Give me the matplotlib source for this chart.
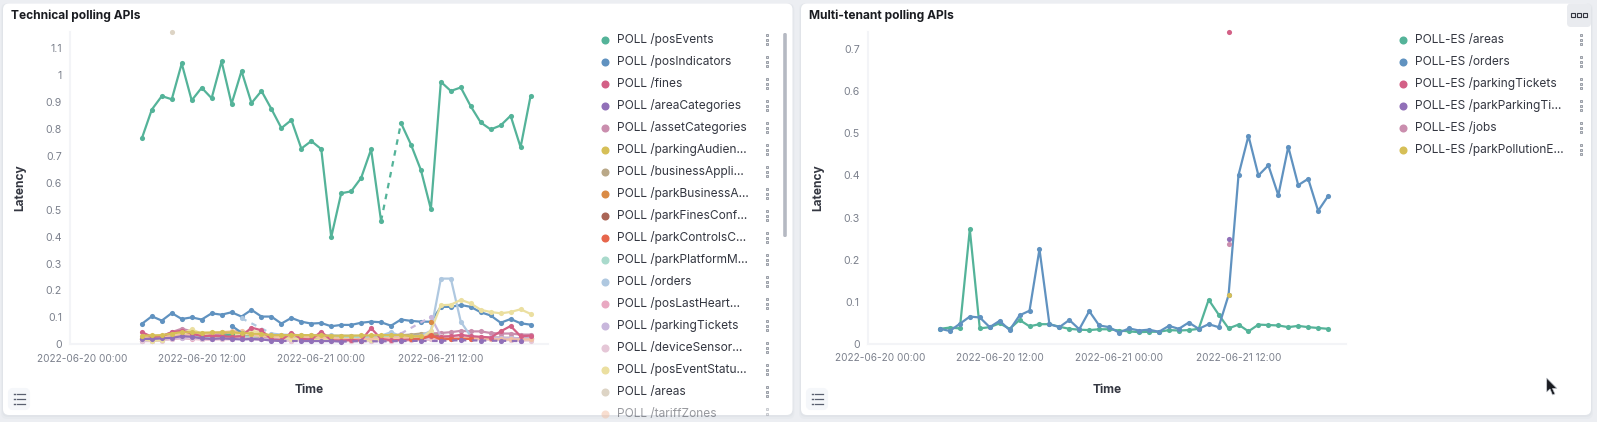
import numpy as np
import pandas as pd
import matplotlib
matplotlib.use('Agg')
import matplotlib.pyplot as plt
import matplotlib.dates as mdates
from matplotlib.patches import FancyBboxPatch, Polygon

plt.rcParams['font.family'] = ['Inter', 'DejaVu Sans']

N = np.nan

# hourly buckets, 2022-06-20 06:00 to 2022-06-21 21:00
times = pd.date_range('2022-06-20 06:00', periods=40, freq='h')
x_ticks = pd.to_datetime(['2022-06-20 00:00', '2022-06-20 12:00', '2022-06-21 00:00', '2022-06-21 12:00'])

# Technical polling APIs
pos_events = [.765, .872, .922, .910, 1.043, .906, .953, .914, 1.051, .893, 1.015, .896, .941, .874, .803, .833, .727, .755, .725, .398,
              .561, .568, .618, .724, .458, N, .822, .742, .647, .502, .975, .941, .954, .884, .824, .798, .813, .849, .732, .922]
pos_indicators = [.076, .104, .088, .116, .094, .100, .092, .115, .110, .119, .103, .128, .103, .103, .077, .098, .084, .077, .079, .067,
                  .072, .072, .080, .084, .082, .069, .092, .087, .084, .084, .139, .139, .146, .139, .119, .107, .080, .094, .078, .073]
fines = [.045, .028, .030, .045, .050, .040, .030, .032, .030, .028, .030, .062, .052, .018, .016, .043, .020, .018, .047, .015,
         .014, .016, .014, .060, .020, .015, .016, .018, .020, .030, .028, .030, .035, .030, .028, .025, .048, .068, .030, .032]
area_categories = [.020, .020, .022, .024, .030, .028, .022, .020, .022, .020, .018, .020, .018, .014, .012, N, .012, .012, .012, .012,
                   .010, N, .012, N, .011, N, .012, N, .013, N, .013, N, .015, N, .014, N, .013, N, .012, N]
asset_categories = [.018, .020, .030, .045, .058, .048, .040, .035, .040, .035, .030, .030, .028, .025, .022, .020, .025, .022, .020, .020,
                    .020, .018, .020, .020, .025, .022, .025, .030, .036, .040, .042, .045, .050, .048, .048, .042, .040, .040, .036, .036]
parking_audience = [.032, .033, .034, .040, .045, .044, .043, .044, .044, .044, .042, .040, .038, .034, .034, .034, .034, .034, .033, .032,
                    .032, .032, .033, .033, .034, .034, .035, .030, .030, N, N, N, N, N, N, N, N, N, N, N]
business_appli = [.020, .025, .030, .030, .035, .030, .030, .028, .030, .030, .032, .030, .030, .030, .032, .030, .030, .030, .028, .026,
                  .026, .028, .028, .030, .030, .032, .034, .036, .040, .040, .032, .030, .028, .026, .025, .025, .024, .024, .022, .022]
park_business = [N, N, N, N, N, N, N, N, N, N, N, N, N, N, N, N, N, N, N, N,
                 N, N, N, N, N, N, N, N, N, .083, N, N, N, N, N, N, N, N, N, N]
park_fines = [.025, .024, .026, .028, .030, .028, .026, .026, .026, .026, .026, .028, .030, .030, .028, .027, .027, .026, .026, .020,
              .018, .018, .018, .020, .020, .020, .020, .022, .024, .028, .030, .028, .030, .026, .024, .024, .024, .022, .022, .022]
park_controls = [N, N, N, N, N, N, N, N, N, N, N, N, N, N, N, N, N, N, N, N,
                 N, N, N, N, N, N, N, .018, .020, .033, .018, .020, .020, .020, N, N, N, N, N, N]
park_platform = [.020, .020, .022, .025, .030, .028, .028, .026, .026, .028, .028, .028, .030, .030, .028, .028, .028, .026, .028, .028,
                 .026, .026, .028, .026, .026, .028, .030, .030, .030, .030, .020, .022, .028, .024, .024, .024, .022, .022, .020, .020]
orders = [N, N, N, N, N, N, N, N, N, N, .097, N, N, .040, .036, .035, .034, .034, .033, .033,
          .032, .032, .030, .030, .032, .045, .030, .030, .032, .050, .244, .244, .084, .030, .024, .024, .022, .022, .022, .020]
pos_last_heart = [.012, .012, .015, .020, .022, .020, .018, .018, .020, .020, .020, .020, .018, .016, .016, .014, .016, .016, .014, .014,
                  .012, .014, .013, .012, .013, .014, .014, .015, .016, .018, .020, .020, .022, .020, .018, .018, .016, .016, .014, .016]
parking_tickets = [.012, .014, .016, .022, .024, .022, .020, .020, .022, .020, .020, .018, .018, .020, .018, .018, .018, .016, .016, .016,
                   .014, .016, .018, .018, .016, .024, .040, N, N, .102, .030, .030, .032, .028, .026, .026, .024, .024, .022, .022]
device_sensor = [.014, .013, .014, .020, .030, .022, .020, .018, .018, .018, .022, .020, .018, .016, .014, .014, .016, .014, .014, .014,
                 .012, .012, .012, .012, .012, .014, .014, .016, .018, .020, .030, .028, .026, .022, .020, .018, .016, .016, .016, .014]
pos_event_status = [.020, .012, .016, .030, .040, .055, .040, .030, .028, .030, .045, .050, .045, .030, .025, .020, .020, .016, .020, .022,
                    .018, .016, .014, .015, .018, .020, .020, .020, .022, .050, .145, .147, .165, .152, .128, .120, .115, .120, .130, .113]
areas = [N, N, N, 1.16, N, N, N, N, N, N, N, N, N, N, N, N, N, N, N, N,
         N, N, N, N, N, N, N, N, N, N, N, N, N, N, N, N, N, N, N, N]
tariff_zones = [.025, .030, .028, .030, .035, .035, .040, .042, .045, .048, .050, .035, .030, .028, .030, .030, .028, .028, .026, .024,
                .020, .020, .018, .022, .022, .024, .026, .028, .030, .028, .024, .020, .020, .024, .020, .020, .018, .018, .018, .018]
# further series below the end of the scrolled legend
extra_a = [N, N, N, N, N, N, N, N, .030, .037, N, N, N, N, N, N, N, N, N, N,
           N, N, N, N, N, N, N, N, N, N, N, N, N, N, N, N, N, N, N, N]
extra_b = [N, N, N, N, N, N, N, N, N, .069, .043, N, N, N, N, N, N, N, N, N,
           N, N, N, N, N, N, N, N, N, N, N, N, N, N, N, N, N, N, N, N]

tech_names = ['POLL /posEvents', 'POLL /posIndicators', 'POLL /fines', 'POLL /areaCategories', 'POLL /assetCategories',
              'POLL /parkingAudien...', 'POLL /businessAppli...', 'POLL /parkBusinessA...', 'POLL /parkFinesConf...',
              'POLL /parkControlsC...', 'POLL /parkPlatformM...', 'POLL /orders', 'POLL /posLastHeart...', 'POLL /parkingTickets',
              'POLL /deviceSensor...', 'POLL /posEventStatu...', 'POLL /areas', 'POLL /tariffZones']
tech_series = [pos_events, pos_indicators, fines, area_categories, asset_categories, parking_audience, business_appli, park_business,
               park_fines, park_controls, park_platform, orders, pos_last_heart, parking_tickets, device_sensor, pos_event_status,
               areas, tariff_zones]
palette = ['#54B399', '#6092C0', '#D36086', '#9170B8', '#CA8EAE', '#D6BF57', '#B9A888', '#DA8B45', '#AA6556', '#E7664C',
           '#A9DACC', '#AFC8E0', '#E9A9C2', '#C8B7DC', '#E5C7D7', '#EBDFA0', '#DDD4C5', '#F2BFA3']
# drawn above the pale tints, as in the dashboard
front = {'POLL /parkingAudien...': 5, 'POLL /areaCategories': 4.8, 'POLL /fines': 4.6, 'POLL /parkControlsC...': 4.7,
         'POLL /parkBusinessA...': 4.9}

# Multi-tenant polling APIs
es_areas = [.036, .039, .037, .272, .037, .040, .049, .036, .057, .042, .047, .047, .041, .036, .034, .033, .035, .035, .032, .030,
            .028, .029, .029, .033, .032, .033, .036, .105, .070, .037, .046, .030, .046, .045, .044, .040, .043, .040, .038, .036]
es_orders = [.036, .031, .048, .065, .063, .040, .055, .033, .068, .079, .225, .047, .040, .057, .035, .078, .044, .040, .027, .037,
             .032, .034, .029, .043, .036, .051, .036, .047, .040, .116, .401, .494, .400, .424, .353, .468, .377, .392, .316, .351]
es_parking_tickets = [N] * 29 + [.741] + [N] * 10
es_park_parking = [N] * 29 + [.249] + [N] * 10
es_jobs = [N] * 29 + [.237] + [N] * 10
es_park_pollution = [N] * 29 + [.116] + [N] * 10
es_names = ['POLL-ES /areas', 'POLL-ES /orders', 'POLL-ES /parkingTickets', 'POLL-ES /parkParkingTi...', 'POLL-ES /jobs',
            'POLL-ES /parkPollutionE...']
es_series = [es_areas, es_orders, es_parking_tickets, es_park_parking, es_jobs, es_park_pollution]

y_ticks_left = [0, .1, .2, .3, .4, .5, .6, .7, .8, .9, 1, 1.1]
y_ticks_right = [0, .1, .2, .3, .4, .5, .6, .7]

W, H = 1597, 422
TEXT = '#343741'
TICK = '#7b808c'
AXIS = '#f3f4f7'


def draw_series(ax, values, color, z=3):
    y = np.array(values, dtype=float)
    ok = np.flatnonzero(~np.isnan(y))
    # nulls get a dashed bridge, like the dashboard draws them
    for a, b in zip(ok[:-1], ok[1:]):
        if b > a + 1:
            ax.plot(times[[a, b]], y[[a, b]], color=color, lw=1.6, ls=(0, (2.5, 2.5)), zorder=z, clip_on=False)
    ax.plot(times, y, color=color, lw=1.6, marker='o', ms=3.7, mew=0, zorder=z, clip_on=False)


def make_axes(left, right, top, bottom, y_top, xlim_hours, y_ticks, label_x):
    ax = fig.add_axes([left / W, 1 - bottom / H, (right - left) / W, (bottom - top) / H])
    ax.patch.set_alpha(0)
    ax.set_ylim(0, y_top)
    ax.set_xlim(mdates.date2num(pd.Timestamp('2022-06-20') + pd.Timedelta(hours=xlim_hours[0])),
                mdates.date2num(pd.Timestamp('2022-06-20') + pd.Timedelta(hours=xlim_hours[1])))
    for s in ['top', 'right']:
        ax.spines[s].set_visible(False)
    for s in ['left', 'bottom']:
        ax.spines[s].set_color(AXIS)
        ax.spines[s].set_linewidth(1.5)
    ax.set_xticks(x_ticks)
    ax.xaxis.set_major_formatter(mdates.DateFormatter('%Y-%m-%d %H:%M'))
    ax.set_yticks(y_ticks)
    ax.set_yticklabels(['%g' % t for t in y_ticks])
    ax.tick_params(length=0, labelcolor=TICK)
    ax.tick_params(axis='x', pad=6.7, labelsize=7.25)
    ax.tick_params(axis='y', pad=6, labelsize=7.6)
    ax.set_xlabel('Time', fontsize=8.6, fontweight='bold', color=TEXT)
    ax.set_ylabel('Latency', fontsize=8.6, fontweight='bold', color=TEXT)
    ax.xaxis.set_label_coords(0.5, -(384 - bottom) / (bottom - top), transform=ax.transAxes)
    ax.yaxis.set_label_coords(-(left - label_x) / (right - left), 0.5, transform=ax.transAxes)
    return ax


def draw_legend(names, colors, dot_x, text_x, menu_x):
    for i, (name, c) in enumerate(zip(names, colors)):
        y = 39.7 + 22 * i
        fade = 0.5 if y > 405 else 1
        bg.plot(dot_x, y, 'o', color=c, ms=5.8, mew=0, alpha=fade)
        t = bg.text(text_x, y, name, fontsize=8.6, color=TEXT, alpha=fade, va='center', ha='left')
        t.set_clip_path(FancyBboxPatch((0, 0), W, 415, boxstyle='square,pad=0', transform=bg.transData))
        t.set_clip_on(True)
        for dy in [-4.6, 0, 4.6]:
            if y + dy < 415:
                bg.plot(menu_x, y + dy, 's', mfc='#d5d8de', mec='#858a94', ms=1.9, mew=0.55, alpha=fade)


def list_button(x):
    bg.add_patch(FancyBboxPatch((x + 3, 390), 18, 18, boxstyle='round,pad=0,rounding_size=3', fc='#f5f7fa', ec='#f5f7fa', lw=3))
    for y in [394, 399, 404]:
        bg.plot([x + 6.5, x + 7.5], [y, y], color='#5a6070', lw=1)
        bg.plot([x + 9.5, x + 18], [y, y], color='#5a6070', lw=0.9)


fig = plt.figure(figsize=(W / 100, H / 100), dpi=100, facecolor='#eceef2')
bg = fig.add_axes([0, 0, 1, 1], zorder=0)
bg.set_xlim(0, W)
bg.set_ylim(H, 0)
bg.axis('off')

# panels
for x0, x1 in [(3, 792.5), (801, 1591)]:
    for grow, alpha in [(4, .05), (2, .07)]:
        bg.add_patch(FancyBboxPatch((x0 - grow / 2, 3.5), x1 - x0 + grow, 411.5 + grow, boxstyle='round,pad=0,rounding_size=6',
                                    fc='#98a2b3', ec='none', alpha=alpha))
    bg.add_patch(FancyBboxPatch((x0, 3.5), x1 - x0, 411.5, boxstyle='round,pad=0,rounding_size=6', fc='white', ec='none'))

bg.text(11.4, 15.5, 'Technical polling APIs', fontsize=8.6, fontweight='bold', color='#1a1c21', va='center')
bg.text(809, 15.5, 'Multi-tenant polling APIs', fontsize=8.6, fontweight='bold', color='#1a1c21', va='center')

draw_legend(tech_names, palette, 605, 617.3, 766.7)
draw_legend(es_names, palette, 1403, 1415.3, 1581)

# legend scrollbar
bg.add_patch(FancyBboxPatch((783.2, 33), 3.6, 204, boxstyle='round,pad=0,rounding_size=1.5', fc='#b5b9c2', ec='none'))

# panel menu button, top right
bg.add_patch(FancyBboxPatch((1567, 3.5), 24, 23.5, boxstyle='round,pad=0,rounding_size=4', fc='#e9ebef', ec='none'))
for x in [1573, 1579, 1585]:
    bg.plot(x, 15, 's', mfc='none', mec='#343741', ms=2.3, mew=0.8)

list_button(7)
list_button(805)

# mouse pointer
bg.add_patch(Polygon([(1546.7, 378), (1546.7, 392), (1550, 389), (1552.5, 395), (1555, 394), (1552.5, 388.5), (1557, 388.5)],
                     closed=True, fc='#1a1c21', ec='#c8ccd2', lw=0.5))

ax1 = make_axes(70.4, 547.5, 32, 344.3, 1.16, (-1.17, 46.7), y_ticks_left, 26.5)
for i, (vals, c, name) in enumerate(zip(tech_series, palette, tech_names)):
    draw_series(ax1, vals, c, front.get(name, 3 + i * 0.01))
draw_series(ax1, extra_a, palette[0], 4)
draw_series(ax1, extra_b, palette[1], 4)

ax2 = make_axes(868, 1346, 32, 344, 0.7404, (-1.23, 46.8), y_ticks_right, 824.5)
for vals, c in zip(es_series, palette):
    draw_series(ax2, vals, c)

fig.savefig('out.png', dpi=100, facecolor=fig.get_facecolor())
